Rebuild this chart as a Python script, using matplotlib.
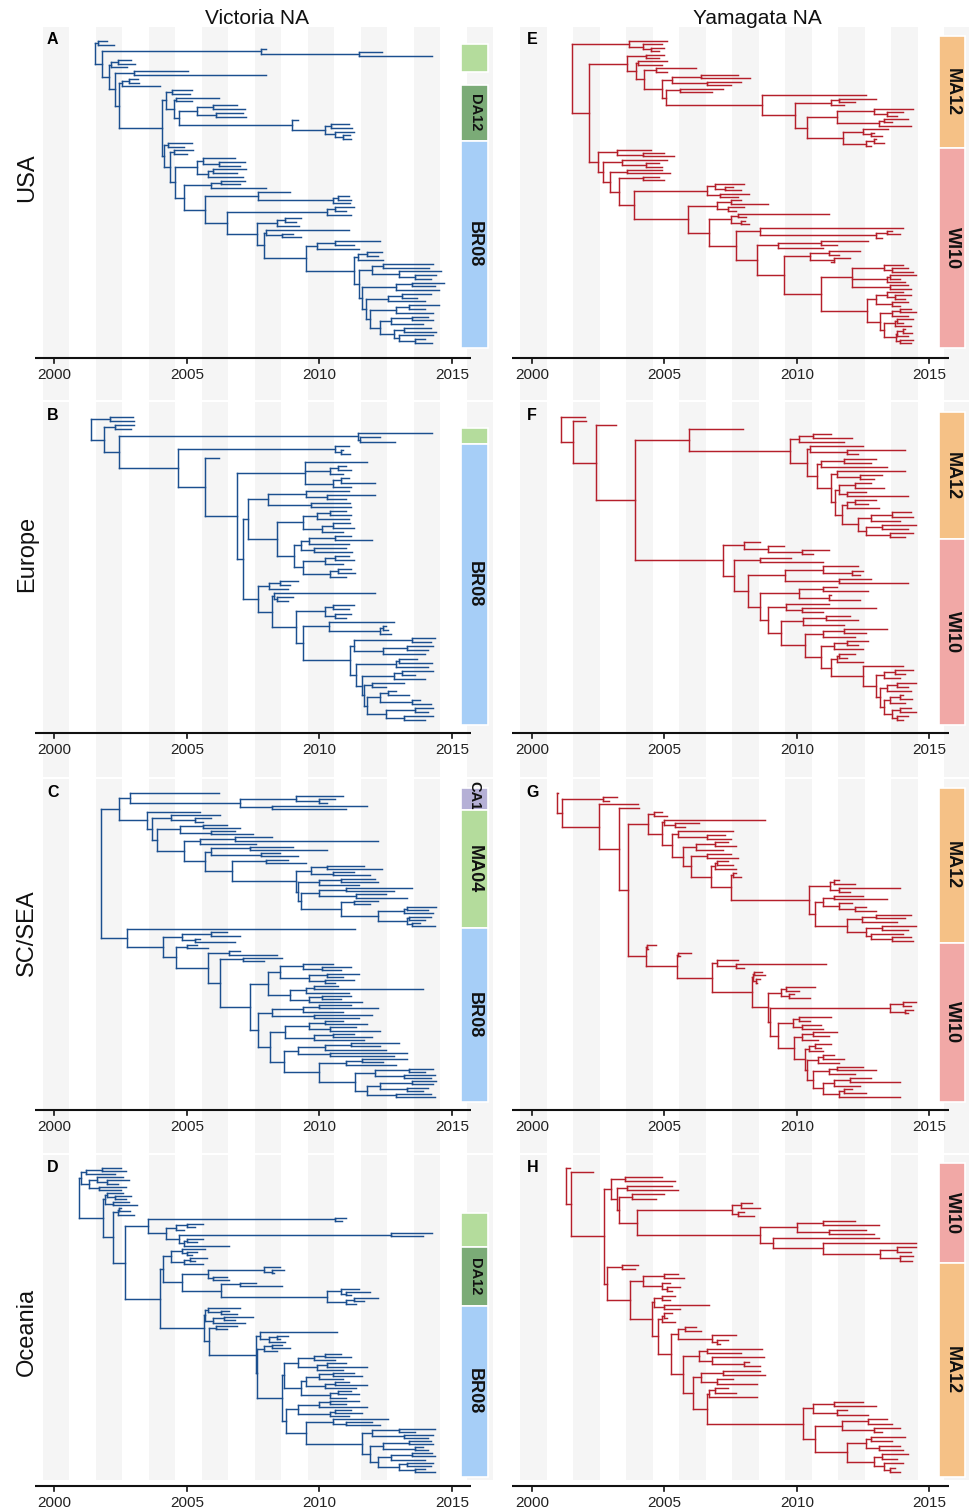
import re
import matplotlib
matplotlib.use("Agg")
import matplotlib.pyplot as plt
from matplotlib.collections import LineCollection
from matplotlib.patches import Rectangle
from matplotlib.transforms import blended_transform_factory

plt.rcParams['font.family'] = ['Liberation Sans', 'DejaVu Sans']

# ---- data: dated trees, node label = time (decimal year), '#x' marks a clade ----
COLUMN_TITLES = ["Victoria NA", "Yamagata NA"]
ROW_LABELS = ["USA", "Europe", "SC/SEA", "Oceania"]
PANEL_LETTERS = [["A", "E"], ["B", "F"], ["C", "G"], ["D", "H"]]
YEAR_TICKS = [2000, 2005, 2010, 2015]

TREE_A = """
(
 (2002.0,2002.25)2001.65,
 (
  (2008.0,(2012.35,2014.25)2011.5)2007.8#g,
  (
   ((2002.9,2003.05)2002.4,2002.75)2002.15#g,
   (
    (2005.05,2008.0)2003.0,
    (
     ((2003.15,2003.2)2002.8,2004.0)2002.55,
     (
      (
       (2005.2,2005.1)2004.45,
       (
        (2006.2,2005.2)2004.6,
        (
         ((2006.9,2007.2)2006.0,(2007.1,2007.25)2006.1)2005.4,
         (2009.2,((2011.1,2011.25)2010.45,(2011.3,(2011.15,2011.2)2010.9)2010.6)2010.2)2008.95
        )2004.7
       )2004.5
      )2004.2#d,
      (
       (2005.2,2004.9)2004.3,
       (
        (2005.25,2005.0)2004.5,
        (
         ((2006.8,(2007.2,2007.0)2006.2)2005.6,((2007.25,2006.9)2006.0,2007.1)2005.8)2005.4,
         (
          ((2007.2,2007.0)2006.3,2008.0)2005.9,
          (
           (2008.9,((2011.1,2011.2)2010.7,2011.15)2010.5)2007.7,
           (
            ((2011.3,2011.0)2010.6,2011.2)2010.3,
            (
             ((2009.3,2009.1)2008.7,2009.25)2008.4,
             (
              (2011.1,(2009.0,2009.3)2008.6)2008.0,
              (
               ((2012.3,2011.3)2010.6,2011.5)2009.9,
               (
                ((2012.35,2012.2)2011.8,2012.4)2011.45,
                (
                 ((2014.3,2014.15)2012.4,(2014.6,(2014.4,2014.2)2013.6)2013.0)2012.0,
                 (
                  ((2014.7,2014.35)2013.5,2014.5)2012.9,
                  (
                   ((2014.2,2013.7)2013.1,2014.0)2012.6,
                   (
                    ((2014.5,2014.0)2013.4,2014.3)2012.9,
                    (
                     ((2014.1,2014.3)2013.5,2013.9)2012.7,
                     ((2014.2,2014.4)2013.2,(2014.3,(2014.0,2014.25)2013.6)2013.0)2012.8
                    )2012.3
                   )2011.9
                  )2011.75
                 )2011.6
                )2011.5
               )2011.3
              )2009.5
             )2007.9
            )2007.64
           )2006.5
          )2005.7
         )2004.9
        )2004.55
       )2004.35
      )2004.15#b
     )2004.05
    )2002.45
   )2002.3
  )2002.05
 )2001.8
)2001.55
"""

TREE_B = """
(
 (2002.95,2003.0)2002.1,
 (
  (2003.0,2002.9)2002.3,
  (
   (2014.25,(2012.3,2012.85)2011.55)2011.45#g,
   (
    (2011.1,(2010.9,2011.15)2010.8)2010.6,
    (
     2006.2,
     (
      (2011.8,((2011.0,2011.2)2010.7,2010.9)2010.4,((2011.1,2012.1)2010.8,2011.2)2010.5)2009.46,
      (
       (
        ((2011.1,(2012.1,2011.0)2010.3)2009.5,(2011.15,2011.2)2009.7)2008.07,
        (
         (((2011.0,2011.2)2010.4,2011.1)2009.9,((2011.15,2011.3)2010.5,2010.9)2010.1)2009.4,
         (
          (((2011.2,2012.0)2010.6,2011.1)2009.6,(2011.0,2011.25)2009.8)2009.3,
          (((2011.1,2011.3)2010.6,2010.9)2010.2,((2011.2,2011.35)2010.7,2011.0)2010.4)2009.4
         )2009.05
        )2008.4
       )2007.3,
       (
        ((2009.2,2008.9)2008.5,2008.8)2008.1,
        (
         (2012.1,(2009.0,2008.8)2008.4)2008.3,
         (
          ((2011.3,2011.1)2010.5,(2011.2,2011.0)2010.6)2010.2,
          (
           (2012.8,((2012.5,2012.6)2012.4,2012.7)2012.3)2010.35,
           (
            ((2014.35,2014.2)2013.5,((2014.3,2014.1)2013.3,2014.0)2012.4)2011.3,
            (
             ((2013.7,2014.25)2013.0,2014.1)2012.9,
             (
              ((2014.3,2013.6)2013.1,2014.0)2012.8,
              (
               (2013.2,2012.5)2012.0,
               (
                ((2012.9,2013.4)2012.6,(2013.8,2014.2)2013.5)2012.3,
                ((2014.3,2014.1)2013.6,(2014.3,2014.0)2013.2)2012.5
               )2011.8
              )2011.7
             )2011.6
            )2011.4
           )2011.15
          )2009.4
         )2009.1
        )2008.2
       )2007.67
      )2007.1
     )2006.88
    )2005.7
   )2004.65#b
  )2002.45
 )2001.87
)2001.4
"""

TREE_C = """
(
 (
  (2006.2,((2010.9,(2010.6,2010.3)2010.0)2009.1,(2011.8,2011.0)2008.2)2007.0)2002.85#c,
  (
   2005.5,
   (
    (2006.25,(2005.9,2005.6)2005.3)2004.4,
    (
     ((2006.5,2007.0)2005.6,(2006.8,2007.5)2005.9)2004.75,
     (
      ((2008.2,2012.2)2006.8,2007.6)2005.5,
      (
       ((2009.0,2010.3)2007.4,(2008.5,2009.2)2007.8)2005.9,
       (
        (2008.8,2009.5)2008.0,
        (
         ((2011.7,2012.35)2010.3,(2011.3,2011.9)2010.5)2009.7,
         (
          ((2012.1,2012.2)2010.8,2011.5)2010.0,
          (
           ((2013.5,2012.8)2011.0,(2012.5,2013.3)2011.4)2010.0,
           (
            (2012.2,2011.9)2011.3,
            (
             ((2014.4,2014.1)2013.3,2014.3)2013.2,
             ((2014.2,2014.0)2013.4,(2013.8,2014.35)2013.5)2013.3
            )2012.2
           )2010.8
          )2009.3
         )2009.2
        )2009.1
       )2006.7
      )2005.7
     )2004.9
    )2003.86
   )2003.7
  )2003.5#m
 )2002.45,
 (
  2011.35,
  (
   ((2006.5,2007.0)2005.9,(2005.5,2006.8)2005.3)2004.8,
   (
    (2005.4,2005.8)2005.0,
    (
     (2007.0,2008.4)2006.6,
     (
      (2008.6,2007.9)2007.1,
      (
       (
        ((2010.5,(2011.2,2010.8)2010.1)2009.4,((2011.5,2010.9)2010.3,(2011.3,2010.6)2010.2)2009.6)2008.5,
        (((2010.7,2013.9)2009.8,2011.1)2009.5,((2011.2,2010.8)2010.1,2011.6)2009.6)2008.9
       )2008.07,
       (
        (((2011.2,2012.2)2010.0,2010.9)2009.4,(2012.0,2011.5)2009.8)2008.2,
        (
         (((2010.9,2011.8)2010.2,(2011.4,2012.3)2010.4)2009.6,((2011.3,2012.0)2010.5,2011.7)2009.8)2008.7,
         (
          (((2013.0,2012.3)2011.2,2012.5)2010.2,(2013.3,2012.8)2010.4)2009.2,
          (
           ((2013.3,2012.4)2011.6,2012.9)2011.0,
           (
            ((2014.3,2014.0)2013.4,(2014.35,2014.2)2013.2)2012.1,
            (
             ((2014.4,2014.3)2013.5,(2014.1,2013.9)2013.3)2012.3,
             (2014.2,2014.35)2012.9
            )2011.8
           )2011.35
          )2010.0
         )2008.65
        )2008.15
       )2007.7
      )2007.4
     )2006.25
    )2005.8
   )2004.6
  )2004.1
 )2002.73#b
)2001.76
"""

TREE_D = """
(
 (((2002.5,2002.7)2001.8,2002.3)2001.2,((2002.6,(2002.8,2002.4)2002.0)2001.6,(2002.7,2002.5)2001.7)2001.3)2001.0,
 (
  ((2002.6,(2002.9,2002.7)2002.3)2002.0,(2002.8,2003.1)2002.2)2001.9,
  (
   ((2002.5,2002.85)2002.45,2003.0)2002.4,
   (
    (
     (2011.0,2010.85)2010.6,
     (
      ((2005.6,2005.3)2005.0,2004.9)2004.6,
      (
       (2014.25,2013.9)2012.7,
       ((2005.6,2005.4)2005.0,2006.6)2004.9
      )2004.7
     )2004.2
    )2003.55#g,
    (
     (
      ((2005.7,(2005.4,2005.2)2005.0)2004.8,((2005.75,2005.3)2005.1,2005.6)2004.9)2004.4,
      (
       ((2008.5,(2008.65,2008.3)2008.2)2007.9,(2006.5,2006.6)2006.0)2005.8,
       (
        (2007.6,2008.6)2007.0,
        ((2011.5,(2011.9,2011.2)2011.0)2010.8,((2012.2,2011.7)2011.3,2011.4)2011.0)2010.3
       )2006.3
      )2004.8
     )2004.1#d,
     (
      ((2007.0,(2006.6,2006.9)2006.3)2005.8,((2007.5,2006.8)2006.4,2007.2)2006.0)2005.7,
      (
       (2006.9,2006.5)2006.1,
       (
        (2010.65,((2008.8,2008.5)2008.4,2008.7)2008.1)2007.75,
        (
         ((2008.6,2008.9)2008.2,2008.4)2007.9,
         (
          (
           (((2010.8,2011.2)2010.2,2010.6)2009.8,((2011.0,2011.8)2010.3,2010.9)2009.9)2009.2,
           (
            (((2011.3,2011.6)2010.5,2010.9)2010.0,((2011.1,2011.8)2010.6,2011.4)2010.2)2009.5,
            ((2011.2,2011.5)2010.7,2011.0)2010.4
           )2009.3
          )2008.65,
          (
           (((2011.5,2011.0)2010.4,2011.8)2010.0,((2011.2,2011.6)2010.6,2011.1)2010.4)2009.2,
           (
            (2012.6,(2012.0,2012.3)2011.0)2010.5,
            (
             ((2014.35,2013.6)2013.0,(2014.3,2014.1)2013.2)2012.0,
             (
              ((2014.2,2014.3)2013.4,(2013.9,2014.1)2013.6)2012.4,
              (
               ((2014.25,2014.35)2013.5,2014.0)2012.7,
               ((2014.3,2014.2)2013.3,(2014.0,2014.35)2013.6)2013.0
              )2012.2
             )2011.9
            )2011.6
           )2009.5
          )2008.75
         )2008.6
        )2007.64
       )2007.6
      )2005.85
     )2005.65#b
    )2004.0
   )2002.65
  )2002.2
 )2001.85
)2000.93
"""

TREE_E = """
(
 (2005.1,(2004.9,(2005.0,2004.8)2004.5)2004.2)2003.67#m,
 (
  (
   (2005.0,2004.8)2004.3,
   (
    (2005.1,2004.9)2004.0,
    (
     (2006.2,2005.1)2004.7,
     (
      ((2007.8,2008.25)2006.4,(2007.9,2007.5)2006.6)2005.3,
      (
       (2007.2,2006.8)2005.6,
       (
        2012.6,
        (
         ((2013.0,2012.2)2011.6,2011.8)2011.3,
         (
          ((2014.4,(2014.0,2013.8)2013.4)2012.9,((2014.2,2013.6)2013.3,2014.3)2013.1)2011.5,
          ((2013.45,(2012.9,2013.2)2012.8)2012.5,((2013.0,2013.3)2012.9,2012.8)2012.6)2011.75
         )2010.4
        )2009.95
       )2008.7
      )2005.05
     )2004.9
    )2004.25
   )2003.95
  )2003.6#m,
  (
   (2004.5,(2005.0,2005.35)2004.2)2003.2,
   (
    (2005.1,(2004.8,2004.9)2004.3)2003.4,
    (
     (2004.9,2005.2)2003.6,
     (
      (2004.8,2005.0)2004.2,
      (
       ((2008.0,(2007.6,2007.9)2007.3)2006.9,(2008.2,2007.8)2007.1)2006.6,
       (
        ((2007.9,2008.9)2007.5,(2008.0,2007.7)2007.4)2007.0,
        (
         ((2011.2,2008.1)2007.8,(2008.05,2008.2)2007.9)2007.5,
         (
          (2014.0,((2013.6,2013.9)2013.4,2013.2)2013.0)2008.6,
          (
           ((2012.7,2011.5)2010.9,2011.0)2009.3,
           (
            ((2012.4,2011.6)2011.2,(2012.0,2011.3)2011.4)2010.5,
            (
             ((2014.0,(2014.2,2014.4)2013.6)2013.3,((2014.5,2013.9)2013.5,2014.1)2013.4,(2014.2,2014.3)2013.5)2012.1,
             (
              ((2014.0,(2014.3,2014.1)2013.7)2013.4,(2014.2,2013.9)2013.6)2013.0,
              (
               ((2014.3,2014.5)2013.9,2014.2)2013.6,
               (
                ((2014.4,2014.0)2013.8,2014.3)2013.7,
                (((2014.1,2014.35)2014.0,2014.2)2013.8,(2014.4,2014.3)2013.9)2013.75
               )2013.3
              )2013.15
             )2012.65
            )2010.9
           )2009.5
          )2008.5
         )2007.7
        )2006.7
       )2005.9
      )2003.85
     )2003.3
    )2002.95
   )2002.7
  )2002.5#w
 )2002.16
)2001.51
"""

TREE_F = """
(
 2002.0#m,
 (
  2002.05#m,
  (
   2003.18#m,
   (
    (
     2007.98,
     (
      ((2011.3,2012.1)2010.6,2011.8)2010.1,
      (
       (2012.5,(2014.1,2012.3)2011.9)2010.5,
       (
        ((2013.0,2012.8)2011.8,2013.4)2010.9,
        (
         (2014.1,(2013.2,2012.9)2012.4)2011.5,
         (
          ((2012.8,2013.3)2012.2,(2012.6,2014.2)2011.9)2011.6,
          (
           ((2013.0,2012.7)2012.2,2013.1)2011.9,
           (
            ((2014.3,2014.4)2013.6,2013.9)2012.8,
            ((2014.5,2014.2)2013.2,(2014.4,2014.1)2013.5)2012.6
           )2012.3
          )2011.7
         )2011.45
        )2011.3
       )2010.75
      )2010.4
     )2009.75
    )2005.94#m,
    (
     (2008.6,(2009.5,(2011.2,2010.6)2010.2)2008.9)2008.0,
     (
      (2009.8,2011.0)2008.6,
      (
       ((2012.3,(2012.5,2012.4)2012.1)2011.0,(2012.8,2014.2)2011.6)2009.55,
       (
        ((2011.5,2012.7)2011.0,(2011.3,2012.4)2011.2)2010.1,
        (
         (2011.2,(2013.0,2011.0)2010.2)2009.6,
         (
          ((2012.0,2012.3)2011.1,2011.8)2010.25,
          (
           ((2013.4,2012.6)2011.8,2012.2)2011.0,
           (
            ((2012.7,2012.3)2011.9,2012.5)2011.4,
            (
             ((2012.2,2011.9)2011.6,2012.5)2011.5,
             (
              2014.0,
              (
               ((2014.4,2014.1)2013.7,2013.9)2013.3,
               (
                ((2014.5,2014.2)2013.8,2014.3)2013.4,
                (
                 ((2014.0,2014.35)2013.9,2014.1)2013.5,
                 ((2014.3,2014.5)2013.9,(2014.2,2014.0)2013.8)2013.6
                )2013.3
               )2013.15
              )2013.0
             )2012.5
            )2011.3
           )2010.9
          )2010.3
         )2009.4
        )2008.9
       )2008.6
      )2008.17
     )2007.63
    )2007.22#w
   )2003.9
  )2002.41
 )2001.55
)2001.1
"""

TREE_G = """
(
 2001.0#m,
 (
  (2003.2,2002.9)2002.7#m,
  (
   2004.0#m,
   (
    2004.05#m,
    (
     (
      (2004.9,2005.1)2004.6,
      (
       (2008.8,(2006.3,2005.8)2005.4)2005.0,
       (
        (2007.6,(2007.3,2007.5)2006.6)2005.5,
        (
         ((2007.4,2007.7)2006.9,2007.2)2006.2,
         (
          (2007.5,2007.8)2006.6,
          (
           ((2007.4,2007.6)2007.0,2007.7)2006.9,
           (
            (2007.7,2007.9)2007.6,
            (
             ((2011.6,2012.2)2011.4,(2013.9,2012.0)2011.6)2011.25,
             (
              ((2012.5,2013.4)2011.4,(2012.1,(2012.6,2013.0)2012.2)2011.6)2011.0,
              (
               ((2014.3,2014.1)2013.0,2013.8)2012.45,
               ((2014.5,2014.2)2013.2,(2014.0,(2014.3,2014.4)2013.6)2012.8)2012.6
              )2011.9
             )2010.7
            )2010.45
           )2007.5
          )2006.75
         )2006.0
        )2005.7
       )2005.3
      )2004.9
     )2004.4#m,
     (
      (2004.7,2004.4)2004.35,
      (
       (2006.0,2005.6)2005.5,
       (
        (2007.8,(2011.1,2008.0)2007.7)2007.0,
        (
         ((2008.7,2008.8)2008.4,(2008.6,2008.5)2008.45)2008.35,
         (
          ((2010.7,2010.1)2009.6,(2009.9,2010.5)2009.7)2009.4,
          (
           ((2014.5,2014.3)2014.0,(2014.4,2014.2)2014.1)2013.5,
           (
            ((2011.3,2010.5)2010.1,(2010.9,2011.0)2010.2)2009.85,
            (
             ((2011.5,2011.2)2010.6,2010.8)2010.2,
             (
              ((2011.3,2010.9)2010.7,2011.0)2010.45,
              (
               ((2011.4,2011.8)2011.0,2011.6)2010.8,
               (
                ((2012.5,2013.0)2011.5,2012.2)2011.2,
                (
                 ((2012.8,2013.9)2012.0,2012.4)2011.4,
                 ((2012.1,2012.6)2011.8,2013.9)2011.6
                )2011.0
               )2010.6
              )2010.4
             )2010.3
            )2009.9
           )2009.3
          )2009.0
         )2008.9
        )2008.3
       )2006.8
      )2005.47
     )2004.3#w
    )2003.64
   )2003.3
  )2002.54
 )2001.15
)2000.94
"""

TREE_H = """
(
 2001.45#w,
 (
  2002.3#w,
  (
   (
    (2004.9,2005.4)2003.5,
    (
     (2005.3,2005.5)2003.6,
     (
      (2005.0,2004.7)2003.8,
      (
       ((2008.3,2008.6)2007.9,(2008.0,2008.4)2007.8)2007.55,
       (
        ((2012.2,2013.1)2011.0,(2012.6,2012.9)2011.2)2010.0,
        (
         2013.1,
         (
          2014.5,
          ((2014.5,2014.3)2013.8,(2014.4,2014.35)2013.9)2013.15
         )2011.0
        )2009.1
       )2008.6
      )2003.97
     )2003.3
    )2003.2
   )2003.0#w,
   (
    (2004.0,2003.9)2003.4,
    (
     ((2005.5,2005.75)2005.0,(2005.2,(2005.6,2005.3)2005.1)2004.9)2004.2,
     (
      ((2005.4,2005.2)2004.9,(2006.7,2005.6)2005.0)2004.6,
      (
       ((2005.3,2005.1)2005.0,2005.4)2004.9,
       (
        ((2006.2,2006.4)2005.8,(2007.7,(2007.4,2007.1)2007.0)2006.8)2005.5,
        (
         ((2008.7,2007.9)2006.6,(2008.75,(2008.2,2008.6)2008.0)2006.8)2006.3,
         (
          ((2008.6,2008.8)2007.2,(2007.6,2008.5)2007.0)2006.4,
          (
           ((2007.4,2007.7)2006.9,2008.5)2006.7,
           (
            ((2012.5,2013.0)2011.4,(2011.9,2012.7)2011.5)2010.6,
            (
             ((2013.4,2013.6)2012.7,(2013.9,2013.2)2012.9)2011.7,
             (
              ((2014.1,2013.6)2012.8,(2013.9,2014.0)2013.1)2012.6,
              ((2014.2,2013.8)2013.2,(2014.0,(2013.7,2013.9)2013.5)2013.3)2012.9
             )2011.9
            )2010.7
           )2010.25
          )2006.6
         )2006.1
        )2005.7
       )2005.25
      )2004.75
     )2004.55
    )2003.7
   )2002.85#m
  )2002.73
 )2001.47
)2001.28
"""

# clade strips: (tag, label, colour key)
BARS_A = [("g", "", "lgreen"), ("d", "DA12", "dgreen"), ("b", "BR08", "lblue")]
BARS_B = [("g", "", "lgreen"), ("b", "BR08", "lblue")]
BARS_C = [("c", "CA11", "purple"), ("m", "MA04", "lgreen"), ("b", "BR08", "lblue")]
BARS_D = [("g", "", "lgreen"), ("d", "DA12", "dgreen"), ("b", "BR08", "lblue")]
BARS_E = [("m", "MA12", "orange"), ("w", "WI10", "pink")]
BARS_F = [("m", "MA12", "orange"), ("w", "WI10", "pink")]
BARS_G = [("m", "MA12", "orange"), ("w", "WI10", "pink")]
BARS_H = [("w", "WI10", "pink"), ("m", "MA12", "orange")]

TREES = [[TREE_A, TREE_E], [TREE_B, TREE_F], [TREE_C, TREE_G], [TREE_D, TREE_H]]
BARS = [[BARS_A, BARS_E], [BARS_B, BARS_F], [BARS_C, BARS_G], [BARS_D, BARS_H]]

# ---- styling / layout (pixels of the 969x1511 canvas) ----
W, H = 969, 1511
BAR_COLORS = {"lgreen": "#b4dc9c", "dgreen": "#7bab77", "lblue": "#a6cef7",
              "purple": "#b5b0d6", "orange": "#f5c186", "pink": "#f1a8a6"}
SMALL_LABELS = {"DA12": 10.5, "CA11": 10.5}
TREE_COLORS = ["#1b4f8f", "#b51f2b"]
STRIPE = "#f5f5f5"
ROW_BLOCKS = [(27, 400), (402, 777), (779, 1153), (1155, 1480)]
ROW_TIPS = [(41, 343), (417, 720), (793, 1097), (1168, 1472)]
ROW_AXIS = [358, 733, 1110, 1486]
ROW_LABEL_Y = [178, 554, 933, 1332]
TITLE_X = [257, 757]
COL_X0 = [42.7, 520.1]
PX_YEAR = 26.5
YEAR0 = 1999.56
YEAR1 = YEAR0 + 17


def parse_tree(text):
    s = re.sub(r"\s+", "", text)
    pos = 0

    def read():
        nonlocal pos
        kids = []
        if s[pos] == "(":
            pos += 1
            kids.append(read())
            while s[pos] == ",":
                pos += 1
                kids.append(read())
            pos += 1
        m = re.match(r"([0-9.]+)(?:#(\w+))?", s[pos:])
        pos += m.end()
        return {"t": float(m.group(1)), "tag": m.group(2), "kids": kids}

    return read()


def layout(root):
    segs, tagged, count = [], {}, [0]

    def walk(n, parent_t, tags):
        if n["tag"]:
            tags = tags + [n["tag"]]
        if not n["kids"]:
            n["y"] = count[0]
            count[0] += 1
            for tg in tags:
                tagged.setdefault(tg, []).append(n["y"])
        else:
            for k in n["kids"]:
                walk(k, n["t"], tags)
            ys = [k["y"] for k in n["kids"]]
            n["y"] = (min(ys) + max(ys)) / 2.0
            segs.append([(n["t"], min(ys)), (n["t"], max(ys))])
        if parent_t is not None:
            segs.append([(parent_t, n["y"]), (n["t"], n["y"])])

    walk(root, None, [])
    return segs, count[0], tagged


fig = plt.figure(figsize=(W / 100, H / 100), dpi=100)

for c, title in enumerate(COLUMN_TITLES):
    fig.text(TITLE_X[c] / W, 1 - 18 / H, title, fontsize=15,
             ha="center", va="center", color="#111111")
for r, lab in enumerate(ROW_LABELS):
    fig.text(27 / W, 1 - ROW_LABEL_Y[r] / H, lab, fontsize=17, rotation=90,
             ha="center", va="center", color="#111111")

for r in range(4):
    for c in range(2):
        x0 = COL_X0[c]
        bt, bb = ROW_BLOCKS[r]
        ax = fig.add_axes([x0 / W, 1 - bb / H, 17 * PX_YEAR / W, (bb - bt) / H])
        ax.axis("off")
        ax.set_xlim(YEAR0, YEAR1)

        segs, n, tagged = layout(parse_tree(TREES[r][c]))
        tt, tb = ROW_TIPS[r]
        s = (tb - tt) / (n - 1)
        ax.set_ylim((n - 1) + (bb - tb) / s, -(tt - bt) / s)

        for yr in range(2000, 2017, 2):
            ax.axvspan(yr - 0.44, yr + 0.56, color=STRIPE, lw=0, zorder=0)

        ax.add_collection(LineCollection(segs, colors=TREE_COLORS[c], linewidths=1.05,
                                         capstyle="projecting", zorder=3))

        # clade strips
        pad = 5.0 / s
        spans = []
        for tag, lab, col in BARS[r][c]:
            ys = tagged[tag]
            spans.append([min(ys) - pad, max(ys) + pad, lab, col])
        for i in range(len(spans) - 1):
            if spans[i][1] > spans[i + 1][0]:
                mid = (spans[i][1] + spans[i + 1][0]) / 2.0
                spans[i][1] = mid
                spans[i + 1][0] = mid
        for i, (y0, y1, lab, col) in enumerate(spans):
            ax.add_patch(Rectangle((2015.36, y0), 1.0, y1 - y0, facecolor=BAR_COLORS[col],
                                   edgecolor="white", lw=1.2, zorder=4 + 2 * i))
            if lab:
                ax.text(2015.86, (y0 + y1) / 2.0, lab, rotation=-90, ha="center", va="center",
                        fontsize=SMALL_LABELS.get(lab, 13), fontweight="bold",
                        color="#111111", zorder=5 + 2 * i, clip_on=True)

        # time axis
        tr = blended_transform_factory(ax.transData, fig.transFigure)
        ya = 1 - ROW_AXIS[r] / H
        ax.plot([YEAR0 - 0.29, 2015.73], [ya, ya], transform=tr, clip_on=False,
                color="#111111", lw=1.5, solid_capstyle="butt")
        for yr in YEAR_TICKS:
            ax.plot([yr, yr], [ya, ya - 5 / H], transform=tr, clip_on=False,
                    color="#111111", lw=1.2)
            ax.text(yr, 1 - (ROW_AXIS[r] + 17) / H, str(yr), transform=tr,
                    ha="center", va="center", fontsize=11, color="#222222")

        fig.text((52.7 + 479.5 * c) / W, 1 - (tt - 1) / H, PANEL_LETTERS[r][c],
                 fontsize=11.5, fontweight="bold", ha="center", va="center")

fig.savefig("out.png", dpi=100)
